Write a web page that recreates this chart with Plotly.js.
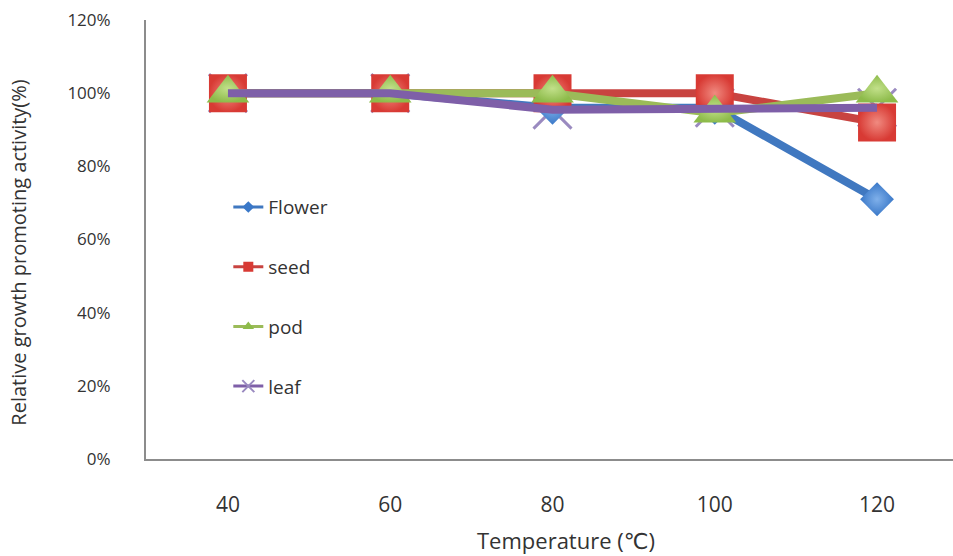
<!DOCTYPE html>
<html>
<head>
<meta charset="utf-8">
<script src="https://cdn.plot.ly/plotly-3.0.1.min.js"></script>
<style>
  html, body { margin: 0; padding: 0; background: #ffffff; }
  #chart { width: 953px; height: 556px; }
</style>
</head>
<body>
<div id="chart"></div>
<script>
// Heating temperatures (°C) and relative growth promoting activity (fraction of control)
var temperatures = ['40', '60', '80', '100', '120'];
var flower = [1.00, 1.00, 0.96, 0.96, 0.71];
var seed   = [1.00, 1.00, 1.00, 1.00, 0.92];
var pod    = [1.00, 1.00, 1.00, 0.945, 1.00];
var leaf   = [1.00, 1.00, 0.955, 0.96, 0.96];

var seriesNames = ['Flower', 'seed', 'pod', 'leaf'];
var seriesData = [flower, seed, pod, leaf];

var styles = [
  { line: '#4078C0', marker: '#3A78C8', grad: '#7FB0EA', symbol: 'diamond', size: 26 },
  { line: '#C84340', marker: '#D83A34', grad: '#F08A80', symbol: 'square', size: 38 },
  { line: '#9BBB59', marker: '#8DBB4A', grad: '#C2E08A', symbol: 'triangle-up', size: 37 },
  { line: '#7E5FA8', marker: '#9A8AC0', grad: '#9A8AC0', symbol: 'x-thin', size: 38 }
];

var legendStyles = [
  { symbol: 'diamond', size: 9 },
  { symbol: 'square', size: 10 },
  { symbol: 'triangle-up', size: 10 },
  { symbol: 'x-thin', size: 12 }
];

var traces = [];

// The leaf crosses sit underneath the other series' markers
traces.push({
  type: 'scatter',
  mode: 'markers',
  x: temperatures,
  y: leaf,
  name: 'leaf',
  showlegend: false,
  marker: {
    symbol: styles[3].symbol,
    size: styles[3].size,
    color: styles[3].marker,
    line: { color: styles[3].marker, width: 3 }
  },
  hoverinfo: 'skip'
});

// Main series: Flower, seed and pod with lines and markers, leaf as a line on top
seriesNames.forEach(function (name, i) {
  var s = styles[i];
  var isLeaf = s.symbol === 'x-thin';
  var trace = {
    type: 'scatter',
    mode: isLeaf ? 'lines' : 'lines+markers',
    x: temperatures,
    y: seriesData[i],
    name: name,
    showlegend: false,
    line: { color: s.line, width: 8 },
    hoverinfo: 'x+y+name'
  };
  if (!isLeaf) {
    trace.marker = {
      symbol: s.symbol,
      size: s.size,
      color: s.marker,
      line: { color: 'rgba(0,0,0,0)', width: 0 },
      gradient: { type: 'radial', color: s.grad }
    };
  }
  traces.push(trace);
});

// Compact legend entries with thin lines and small symbols
seriesNames.forEach(function (name, i) {
  var s = styles[i];
  var ls = legendStyles[i];
  traces.push({
    type: 'scatter',
    mode: 'lines+markers',
    x: [null],
    y: [null],
    name: name,
    legendgroup: 'g' + i,
    showlegend: true,
    line: { color: s.line, width: 3 },
    marker: {
      symbol: ls.symbol,
      size: ls.size,
      color: s.marker,
      line: { color: s.marker, width: ls.symbol === 'x-thin' ? 2 : 0 }
    }
  });
});

var textColor = '#333333';
var fontFamily = '"Open Sans", "DejaVu Sans", sans-serif';

var layout = {
  width: 953,
  height: 556,
  margin: { l: 146, r: 0, t: 20, b: 97 },
  paper_bgcolor: '#ffffff',
  plot_bgcolor: '#ffffff',
  font: { family: fontFamily, color: textColor },
  showlegend: true,
  legend: {
    x: 0.102,
    y: 0.617,
    xanchor: 'left',
    yanchor: 'top',
    bgcolor: 'rgba(0,0,0,0)',
    font: { size: 19, color: textColor, family: fontFamily },
    tracegroupgap: 32,
    traceorder: 'grouped'
  },
  xaxis: {
    type: 'category',
    range: [-0.505, 4.468],
    showgrid: false,
    zeroline: false,
    showline: true,
    linecolor: '#8c8c8c',
    linewidth: 2,
    ticks: '',
    ticklabelstandoff: 26,
    tickfont: { size: 21, color: textColor, family: fontFamily },
    fixedrange: true
  },
  yaxis: {
    range: [0, 1.2],
    tickvals: [0, 0.2, 0.4, 0.6, 0.8, 1.0, 1.2],
    tickformat: '.0%',
    showgrid: false,
    zeroline: false,
    showline: true,
    linecolor: '#8c8c8c',
    linewidth: 2,
    ticks: '',
    ticklabelstandoff: 30,
    tickfont: { size: 17, color: textColor, family: fontFamily },
    fixedrange: true
  },
  annotations: [
    {
      text: 'Temperature (℃)',
      xref: 'paper',
      yref: 'paper',
      x: 0.52,
      y: 0,
      yshift: -81,
      xanchor: 'center',
      yanchor: 'middle',
      showarrow: false,
      font: { size: 22, color: textColor, family: fontFamily }
    },
    {
      text: 'Relative growth promoting activity(%)',
      xref: 'paper',
      yref: 'paper',
      x: 0,
      y: 0.47,
      xshift: -127,
      textangle: -90,
      xanchor: 'center',
      yanchor: 'middle',
      showarrow: false,
      font: { size: 20, color: textColor, family: fontFamily }
    }
  ]
};

Plotly.newPlot('chart', traces, layout, { displayModeBar: false, staticPlot: true });
</script>
</body>
</html>
